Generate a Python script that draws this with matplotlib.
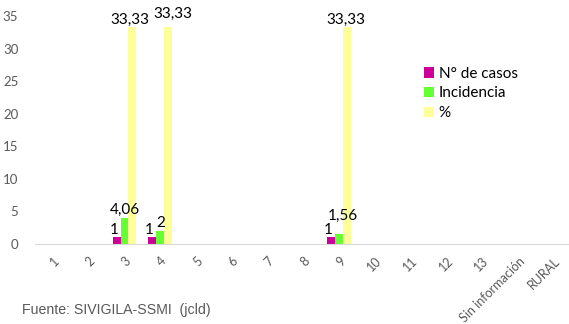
import numpy as np
import matplotlib
matplotlib.use("Agg")
import matplotlib.pyplot as plt

categories = ["1", "2", "3", "4", "5", "6", "7", "8", "9", "10", "11", "12", "13",
              "Sin información", "RURAL"]
casos = [0, 0, 1, 1, 0, 0, 0, 0, 1, 0, 0, 0, 0, 0, 0]
incidencia = [0, 0, 4.06, 2, 0, 0, 0, 0, 1.56, 0, 0, 0, 0, 0, 0]
porcentaje = [0, 0, 33.33, 33.33, 0, 0, 0, 0, 33.33, 0, 0, 0, 0, 0, 0]

series = [
    ("N° de casos", casos, "#CC0099"),
    ("Incidencia", incidencia, "#66FF33"),
    ("%", porcentaje, "#FFFF99"),
]

# label nudges (dx in category units, dy in data units) so labels don't collide
nudge = {
    ("N° de casos", 2): (-0.08, 0.0), ("N° de casos", 3): (-0.08, 0.0),
    ("N° de casos", 8): (-0.1, 0.0),
    ("Incidencia", 8): (0.1, 1.6),
    ("%", 2): (-0.06, -0.2), ("%", 3): (0.13, 0.7), ("%", 8): (-0.05, -0.2),
}

plt.rcParams["font.family"] = ["Lato", "DejaVu Sans"]

fig = plt.figure(figsize=(5.69, 3.24), dpi=100)
ax = fig.add_axes([35 / 569, 80 / 324, 537 / 569, 228 / 324])

x = np.arange(len(categories))
w = 0.22
for i, (name, vals, col) in enumerate(series):
    pos = x + (i - 1) * w
    ax.bar(pos, vals, width=w, color=col, label=name)
    for j, (p, v) in enumerate(zip(pos, vals)):
        if v > 0:
            if name == "%":
                txt = f"{v:.2f}".replace(".", ",")
            else:
                txt = f"{v:g}".replace(".", ",")
            dx, dy = nudge.get((name, j), (0, 0))
            ax.text(p + dx, v + 0.15 + dy, txt, ha="center", va="bottom",
                    fontsize=11, color="black")

ax.set_xlim(-0.5, len(categories) - 0.5)
ax.set_ylim(0, 35)
ax.set_yticks(range(0, 36, 5))
ax.set_xticks(x)
ax.set_xticklabels(categories, rotation=45, ha="right", rotation_mode="anchor",
                   fontsize=9, color="#595959")
ax.tick_params(axis="y", labelsize=9.5, colors="#595959", length=0, pad=12)
ax.tick_params(axis="x", length=0, pad=8)
for s in ["top", "right", "left"]:
    ax.spines[s].set_visible(False)
ax.spines["bottom"].set_color("#D9D9D9")

ax.legend(loc="upper left", bbox_to_anchor=(0.698, 0.838), frameon=False,
          fontsize=11, handlelength=0.7, handleheight=0.7, handletextpad=0.3,
          labelspacing=0.38)

fig.text(22 / 569, 1 - 310 / 324, "Fuente: SIVIGILA-SSMI  (jcld)", fontsize=10.2,
         color="#595959", va="center", family=["Liberation Sans", "DejaVu Sans"])

fig.savefig("out.png", dpi=100)
